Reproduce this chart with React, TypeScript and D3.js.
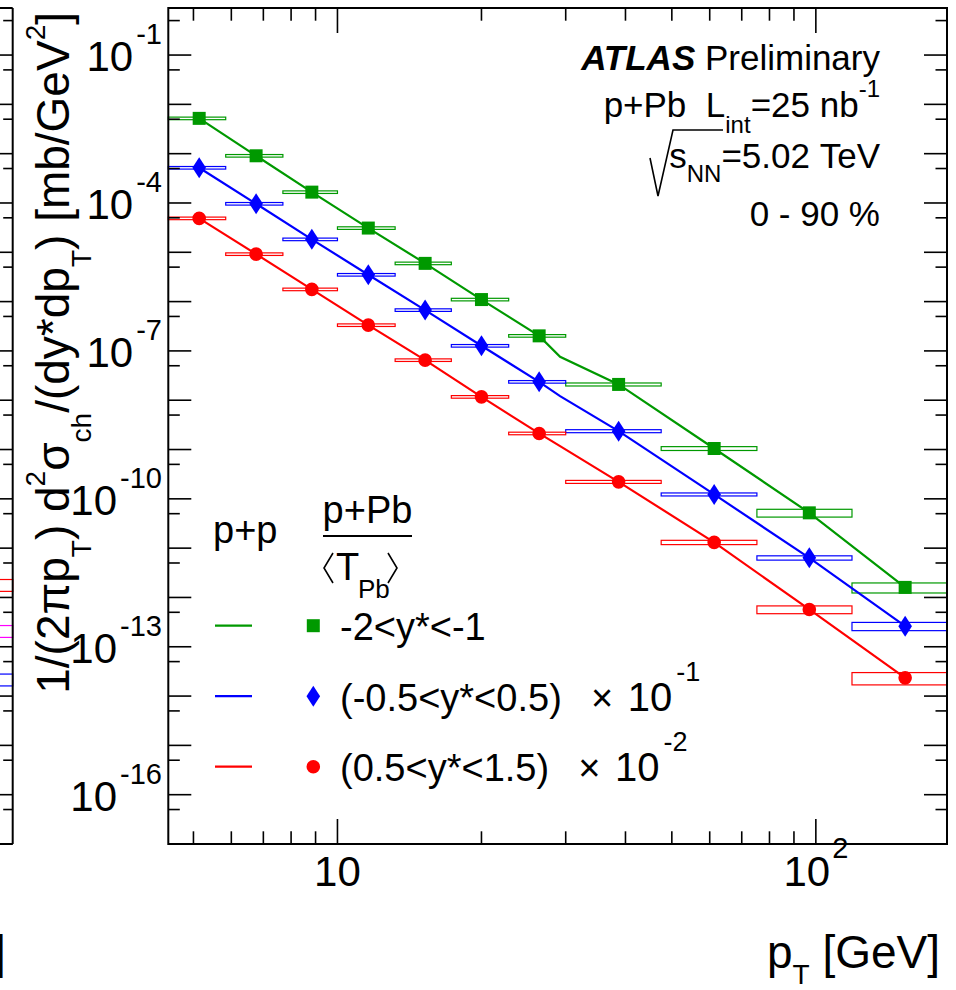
import React from 'react';
import * as d3 from 'd3';

const W = 956;
const H = 990;

// pT binning of the p+Pb measurement (GeV) and plotted pT of each point
const binEdges = [4.43, 5.84, 7.69, 10, 13.2, 17.3, 22.8, 30, 47.5, 75.3, 119, 188];
const ptPoints = [5.14, 6.76, 8.84, 11.6, 15.25, 20.0, 26.4, 38.7, 61.3, 96.9, 153.7];

// p+Pb / <T_Pb>  (unscaled) per rapidity interval
const pPbGreen = [5.2e-3, 9.06e-4, 1.66e-4, 3.1e-5, 5.96e-6, 1.1e-6, 2.02e-7, 2.09e-8, 1.05e-9, 5.2e-11, 1.6e-12];
const pPbBlue = [5.18e-3, 9.64e-4, 1.83e-4, 3.5e-5, 6.73e-6, 1.27e-6, 2.36e-7, 2.36e-8, 1.23e-9, 6.35e-11, 2.62e-12];
const pPbRed = [4.88e-3, 9.18e-4, 1.77e-4, 3.33e-5, 6.5e-6, 1.17e-6, 2.12e-7, 2.21e-8, 1.31e-9, 5.71e-11, 2.34e-12];

// relative systematic uncertainties (boxes)
const sysGreen = [0.06, 0.06, 0.06, 0.06, 0.06, 0.06, 0.06, 0.07, 0.09, 0.18, 0.23];
const sysBlue = [0.06, 0.06, 0.06, 0.06, 0.06, 0.06, 0.06, 0.07, 0.07, 0.1, 0.19];
const sysRed = [0.06, 0.06, 0.06, 0.06, 0.06, 0.06, 0.06, 0.07, 0.1, 0.18, 0.28];

// p+p reference (unscaled)
const ppPt = [5.14, 6.76, 8.84, 11.6, 15.25, 20.0, 26.4, 29.2, 38.7, 61.3, 96.9, 153.7];
const ppGreen = [5.2e-3, 9.06e-4, 1.66e-4, 3.1e-5, 5.96e-6, 1.1e-6, 2.02e-7, 7.59e-8, 2.09e-8, 1.05e-9, 5.2e-11, 1.6e-12];
const ppBlue = [5.18e-3, 9.64e-4, 1.83e-4, 3.5e-5, 6.73e-6, 1.27e-6, 2.36e-7, 1.21e-7, 2.36e-8, 1.23e-9, 6.35e-11, 2.62e-12];
const ppRed = [4.88e-3, 9.18e-4, 1.77e-4, 3.33e-5, 6.5e-6, 1.17e-6, 2.12e-7, 1.17e-7, 2.21e-8, 1.31e-9, 5.71e-11, 2.34e-12];

const seriesLabels = ['-2<y*<-1', '(-0.5<y*<0.5)', '(0.5<y*<1.5)'];
const seriesExp = [0, -1, -2];
const seriesColors = ['#009900', '#0000ff', '#ff0000'];
const seriesMarkers = ['square', 'diamond', 'circle'];

// neighbouring panel (cut off at left edge): last-bin values
const leftPanelValues = [1.82e-12, 2.12e-13, 2.2e-14];
const leftPanelColors = ['#ff0000', '#ff00ff', '#0000ff'];
const leftPanelSys = [0.27, 0.27, 0.27];

const yLabelExps = [-1, -4, -7, -10, -13, -16];
const xLabelValues = [10, 100];

const FONT = '"Liberation Sans", Arial, Helvetica, sans-serif';

const frame = { left: 168.3, right: 947, top: 8, bottom: 844 };

const x = d3.scaleLog().domain([binEdges[0], binEdges[binEdges.length - 1]]).range([frame.left, frame.right]);
const y = d3.scaleLog().domain([1e-17, 0.9]).range([frame.bottom, frame.top]);
const leftShift = frame.right - 12.7;
const xLeft = x.copy().range([frame.left - leftShift, frame.right - leftShift]);

const series = [
  { vals: pPbGreen, sys: sysGreen, pp: ppGreen },
  { vals: pPbBlue, sys: sysBlue, pp: ppBlue },
  { vals: pPbRed, sys: sysRed, pp: ppRed },
];

function markerPath(kind: string, s = 1) {
  if (kind === 'square') {
    const a = 6.5 * s;
    return `M${-a},${-a}H${a}V${a}H${-a}Z`;
  }
  if (kind === 'diamond') {
    const w = 6.8 * s, h = 10.5 * s;
    return `M0,${-h}L${w},0L0,${h}L${-w},0Z`;
  }
  const r = 6.8 * s;
  return `M${r},0A${r},${r} 0 1,1 ${-r},0A${r},${r} 0 1,1 ${r},0Z`;
}

const yMajor = d3.range(-17, 0).map((e) => Math.pow(10, e));
const yMinor = d3.range(-17, 0).map((e) => 5 * Math.pow(10, e)).filter((v) => v < 0.9);
const xMinor = [5, 6, 7, 8, 9, 20, 30, 40, 50, 60, 70, 80, 90].filter((v) => v > binEdges[0] && v < binEdges[binEdges.length - 1]);
const xMajor = [10, 100];

export default function App() {
  const line = d3.line<[number, number]>().x((d) => x(d[0])).y((d) => y(d[1]));
  const TL = 23, TS = 11.5, XL = 25, XS = 12.7;
  return (
    <div style={{ position: 'absolute', left: 0, top: 0, width: W, height: H, background: '#fff' }}>
      <svg width={W} height={H} viewBox={`0 0 ${W} ${H}`} style={{ display: 'block', fontFamily: FONT }}>
        <rect x={0} y={0} width={W} height={H} fill="#fff" />

        {/* neighbouring panel remnant */}
        <g>
          {leftPanelValues.map((v, i) => (
            <rect key={'lb' + i} x={xLeft(binEdges[binEdges.length - 2])} y={y(v * (1 + leftPanelSys[i]))}
              width={xLeft(binEdges[binEdges.length - 1]) - xLeft(binEdges[binEdges.length - 2])}
              height={y(v * (1 - leftPanelSys[i])) - y(v * (1 + leftPanelSys[i]))}
              fill="none" stroke={leftPanelColors[i]} strokeWidth={1.2} />
          ))}
          <line x1={0} x2={12.7} y1={frame.top} y2={frame.top} stroke="#000" strokeWidth={2} />
          <line x1={0} x2={12.7} y1={frame.bottom} y2={frame.bottom} stroke="#000" strokeWidth={2} />
          <line x1={12.7} x2={12.7} y1={frame.top} y2={frame.bottom} stroke="#000" strokeWidth={2} />
          {yMajor.map((v) => (
            <line key={'lM' + v} x1={12.7 - TL} x2={12.7} y1={y(v)} y2={y(v)} stroke="#000" strokeWidth={1.6} />
          ))}
          {yMinor.map((v) => (
            <line key={'lm' + v} x1={12.7 - TS + 2} x2={12.7} y1={y(v)} y2={y(v)} stroke="#000" strokeWidth={1.6} />
          ))}
          <text x={5.7} y={968} textAnchor="end" fontSize={46}>
            p<tspan dy={16} fontSize={28}>T</tspan><tspan dy={-16}>{'\u00a0[GeV]'}</tspan>
          </text>
        </g>

        {/* systematic boxes */}
        {series.map((s, si) =>
          s.vals.map((v, i) => {
            const f = Math.pow(10, seriesExp[si]);
            const top = y(v * f * (1 + s.sys[i]));
            const bot = y(v * f * (1 - s.sys[i]));
            const x0 = x(binEdges[i]);
            const x1 = x(binEdges[i + 1]);
            return (
              <rect key={`b${si}-${i}`} x={x0} y={top} width={x1 - x0} height={bot - top}
                fill="none" stroke={seriesColors[si]} strokeWidth={1.2} />
            );
          })
        )}

        {/* p+p reference lines */}
        {series.map((s, si) => {
          const f = Math.pow(10, seriesExp[si]);
          const pts: [number, number][] = ppPt.map((p, i) => [p, s.pp[i] * f]);
          return <path key={'pp' + si} d={line(pts) || ''} fill="none" stroke={seriesColors[si]} strokeWidth={2.2} />;
        })}

        {/* markers */}
        {series.map((s, si) =>
          s.vals.map((v, i) => {
            const f = Math.pow(10, seriesExp[si]);
            return (
              <path key={`m${si}-${i}`} transform={`translate(${x(ptPoints[i])},${y(v * f)})`}
                d={markerPath(seriesMarkers[si])} fill={seriesColors[si]} />
            );
          })
        )}

        {/* frame */}
        <rect x={frame.left} y={frame.top} width={frame.right - frame.left} height={frame.bottom - frame.top}
          fill="none" stroke="#000" strokeWidth={2} />

        {/* y ticks */}
        {yMajor.map((v) => (
          <g key={'yM' + v}>
            <line x1={frame.left} x2={frame.left + TL} y1={y(v)} y2={y(v)} stroke="#000" strokeWidth={1.6} />
            <line x1={frame.right - TL} x2={frame.right} y1={y(v)} y2={y(v)} stroke="#000" strokeWidth={1.6} />
          </g>
        ))}
        {yMinor.map((v) => (
          <g key={'ym' + v}>
            <line x1={frame.left} x2={frame.left + TS} y1={y(v)} y2={y(v)} stroke="#000" strokeWidth={1.6} />
            <line x1={frame.right - TS} x2={frame.right} y1={y(v)} y2={y(v)} stroke="#000" strokeWidth={1.6} />
          </g>
        ))}
        {/* x ticks */}
        {xMajor.map((v) => (
          <g key={'xM' + v}>
            <line x1={x(v)} x2={x(v)} y1={frame.bottom} y2={frame.bottom - XL} stroke="#000" strokeWidth={1.6} />
            <line x1={x(v)} x2={x(v)} y1={frame.top} y2={frame.top + XL} stroke="#000" strokeWidth={1.6} />
          </g>
        ))}
        {xMinor.map((v) => (
          <g key={'xm' + v}>
            <line x1={x(v)} x2={x(v)} y1={frame.bottom} y2={frame.bottom - XS} stroke="#000" strokeWidth={1.6} />
            <line x1={x(v)} x2={x(v)} y1={frame.top} y2={frame.top + XS} stroke="#000" strokeWidth={1.6} />
          </g>
        ))}

        {/* y tick labels */}
        {yLabelExps.map((e) => (
          <text key={'yl' + e} x={162} y={y(Math.pow(10, e)) + 16} textAnchor="end" fontSize={42}>
            10<tspan dx={3} dy={-27} fontSize={29}>{String(e)}</tspan>
          </text>
        ))}
        {/* x tick labels */}
        {xLabelValues.map((v) => (
          <text key={'xl' + v} x={x(v)} y={886} textAnchor="middle" fontSize={42}>
            10{v === 100 ? <tspan dx={2} dy={-28} fontSize={29}>2</tspan> : null}
          </text>
        ))}

        {/* axis titles */}
        <text x={940} y={968} textAnchor="end" fontSize={46}>
          p<tspan dy={16} fontSize={28}>T</tspan><tspan dy={-16}>{'\u00a0[GeV]'}</tspan>
        </text>
        <text transform="translate(69,12) rotate(-90)" textAnchor="end" fontSize={46}>
          1/(2πp<tspan dy={22} fontSize={28}>T</tspan>
          <tspan dy={-22}>{')\u00a0d'}</tspan>
          <tspan dy={-24} fontSize={28}>2</tspan>
          <tspan dy={24}>σ</tspan>
          <tspan dy={22} fontSize={28}>ch</tspan>
          <tspan dy={-22}>/(dy*dp</tspan>
          <tspan dy={22} fontSize={28}>T</tspan>
          <tspan dy={-22}>{')\u00a0[mb/GeV'}</tspan>
          <tspan dy={-24} fontSize={28}>2</tspan>
          <tspan dy={24}>]</tspan>
        </text>

        {/* ATLAS label */}
        <text x={880} y={70} textAnchor="end" fontSize={35}>
          <tspan fontWeight="bold" fontStyle="italic">ATLAS</tspan>
          <tspan>{'\u00a0Preliminary'}</tspan>
        </text>
        <text x={880} y={117} textAnchor="end" fontSize={35}>
          {'p+Pb\u00a0\u00a0L'}
          <tspan dy={16} fontSize={24}>int</tspan>
          <tspan dy={-16}>{'=25\u00a0nb'}</tspan>
          <tspan dy={-20} fontSize={24}>-1</tspan>
        </text>
        <path d="M650,158 L658,196 L673,130 L723,130" fill="none" stroke="#000" strokeWidth={1.6} />
        <text x={880} y={168} textAnchor="end" fontSize={35}>
          s<tspan dy={14} fontSize={24}>NN</tspan>
          <tspan dy={-14}>{'=5.02\u00a0TeV'}</tspan>
        </text>
        <text x={880} y={226} textAnchor="end" fontSize={35}>
          {'0 - 90 %'}
        </text>

        {/* legend */}
        <text x={213} y={543} fontSize={38}>p+p</text>
        <text x={367.5} y={523} textAnchor="middle" fontSize={38}>p+Pb</text>
        <line x1={323} x2={412} y1={536} y2={536} stroke="#000" strokeWidth={2} />
        <path d="M333,553 L324,568 L333,583" fill="none" stroke="#000" strokeWidth={1.6} />
        <text x={336} y={580} fontSize={38}>T</text>
        <text x={358} y={598} fontSize={26}>Pb</text>
        <path d="M388,553 L397,568 L388,583" fill="none" stroke="#000" strokeWidth={1.6} />

        {seriesLabels.map((lab, i) => {
          const cy = 625.7 + i * 70.5;
          return (
            <g key={'leg' + i}>
              <line x1={215} x2={252} y1={cy} y2={cy} stroke={seriesColors[i]} strokeWidth={2.2} />
              <path transform={`translate(313.3,${cy})`} d={markerPath(seriesMarkers[i])} fill={seriesColors[i]} />
              <text x={340} y={cy + 14.5} fontSize={38}>
                {lab}
                {seriesExp[i] !== 0 ? (
                  <>
                    <tspan dx={8}>{'\u00a0\u00a0×\u00a0'}</tspan>
                    <tspan dx={4} fontSize={40}>10</tspan>
                    <tspan dx={4} dy={-30} fontSize={27}>{String(seriesExp[i])}</tspan>
                  </>
                ) : null}
              </text>
            </g>
          );
        })}
      </svg>
    </div>
  );
}
